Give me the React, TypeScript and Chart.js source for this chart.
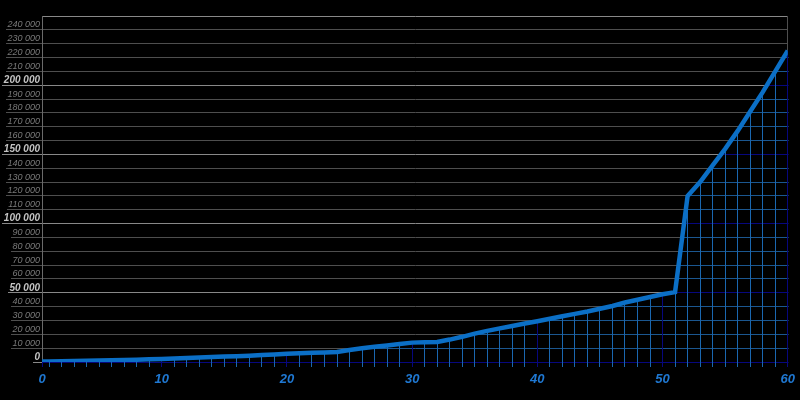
import React, { useEffect, useRef } from 'react';
import { Chart, registerables } from 'chart.js';

Chart.register(...registerables);

// ---- data ----
const xValues = [
  0, 1, 2, 3, 4, 5, 6, 7, 8, 9, 10, 11, 12, 13, 14, 15, 16, 17, 18, 19, 20,
  21, 22, 23, 24, 25, 26, 27, 28, 29, 30, 31, 32, 33, 34, 35, 36, 37, 38, 39, 40,
  41, 42, 43, 44, 45, 46, 47, 48, 49, 50, 51, 52, 53, 54, 55, 56, 57, 58, 59, 60,
];
const yValues = [
  200, 400, 600, 700, 900, 1100, 1300, 1500, 1700, 1900, 2100,
  2500, 2900, 3300, 3600, 3900, 4200, 4600, 5000, 5500, 6000,
  6300, 6600, 6900, 7300, 8600, 10000, 11000, 12000, 13000, 14000,
  14200, 14500, 16200, 18200, 20500, 22500, 24300, 26000, 27800, 29500,
  31300, 33000, 34800, 36500, 38500, 40500, 43000, 45000, 47000, 49000,
  50500, 120000, 130000, 142000, 154000, 167000, 181000, 195000, 210000, 225000,
];
const xLabelValues = [0, 10, 20, 30, 40, 50, 60];
const yMin = 0;
const yMax = 250000;
const yStep = 10000;
const yMajorStep = 50000;
const xVisibleMin = 0.44;
const xMax = 60;

// ---- style ----
const NAVY = '#07077e';
const LINE_BLUE = '#0b6fc6';
const FILL_V = '#1a67b0';
const FILL_H = '#1b5790';
const GRID_MINOR = '#4e4e4e';
const GRID_MAJOR = '#888888';
const LABEL_MINOR = '#7a7a7a';
const LABEL_MAJOR = '#c4c4c4';
const XLABEL = '#1f78d2';
const FAMILY = '"Liberation Sans", Arial, sans-serif';

const isMajorY = (v: number) => v % yMajorStep === 0;
const fmtY = (v: number) => (v === 0 ? '0' : `${Math.round(v / 1000)} 000`);
const yFont = (v: number) =>
  isMajorY(v)
    ? { family: FAMILY, size: 10, style: 'italic' as const, weight: 'bold' as const }
    : { family: FAMILY, size: 9, style: 'italic' as const, weight: 'normal' as const };

const align = (p: number) => Math.round(p - 0.5) + 0.5;

const underCurvePlugin = {
  id: 'underCurve',
  beforeDatasetsDraw(chart: any) {
    const { ctx, chartArea: ca, scales } = chart;
    const xs = scales.x;
    const ys = scales.y;
    const pts = chart.getDatasetMeta(0).data;
    if (!pts || !pts.length) return;
    const base = ys.getPixelForValue(0);

    ctx.save();
    // right frame line (gray, above curve)
    ctx.strokeStyle = GRID_MINOR;
    ctx.lineWidth = 1;
    ctx.beginPath();
    ctx.moveTo(align(ca.right), ca.top);
    ctx.lineTo(align(ca.right), base);
    ctx.stroke();

    // clip to the area under the curve
    ctx.beginPath();
    ctx.rect(ca.left, ca.top, ca.right - ca.left + 1, base - ca.top + 1);
    ctx.clip();
    ctx.beginPath();
    ctx.moveTo(pts[0].x, base + 1);
    for (const p of pts) ctx.lineTo(p.x, p.y);
    const last = pts[pts.length - 1];
    ctx.lineTo(last.x + 2, last.y);
    ctx.lineTo(last.x + 2, base + 1);
    ctx.closePath();
    ctx.clip();

    ctx.fillStyle = '#000';
    ctx.fillRect(ca.left, ca.top, ca.right - ca.left + 2, base - ca.top + 2);

    // horizontal lines
    for (let v = yMin; v <= yMax; v += yStep) {
      const py = align(ys.getPixelForValue(v));
      ctx.strokeStyle = isMajorY(v) ? NAVY : FILL_H;
      ctx.beginPath();
      ctx.moveTo(ca.left, py);
      ctx.lineTo(ca.right + 1, py);
      ctx.stroke();
    }
    // vertical lines
    for (const v of xValues) {
      if (v < xVisibleMin) continue;
      const px = align(xs.getPixelForValue(v));
      ctx.strokeStyle = v % 10 === 0 ? NAVY : FILL_V;
      ctx.beginPath();
      ctx.moveTo(px, base + 1);
      ctx.lineTo(px, ca.top);
      ctx.stroke();
    }
    ctx.restore();
  },
  afterDraw(chart: any) {
    // underline of y tick labels
    const { ctx, chartArea: ca, scales } = chart;
    const ys = scales.y;
    ctx.save();
    ctx.lineWidth = 1;
    for (const t of ys.ticks) {
      const v = t.value;
      if (v >= yMax) continue;
      const f = yFont(v);
      ctx.font = `${f.style} ${f.weight} ${f.size}px ${FAMILY}`;
      const w = ctx.measureText(fmtY(v)).width;
      const right = ca.left - 2;
      const py = align(ys.getPixelForValue(v));
      ctx.strokeStyle = isMajorY(v) ? GRID_MAJOR : GRID_MINOR;
      ctx.beginPath();
      ctx.moveTo(Math.floor(right - w - 1), py);
      ctx.lineTo(ca.left, py);
      ctx.stroke();
    }
    ctx.restore();
  },
};

export default function App() {
  const ref = useRef<HTMLCanvasElement | null>(null);

  useEffect(() => {
    if (!ref.current) return;
    const chart = new Chart(ref.current, {
      type: 'line',
      data: {
        datasets: [
          {
            data: xValues.map((x, i) => ({ x, y: yValues[i] })),
            borderColor: LINE_BLUE,
            borderWidth: 4.5,
            pointRadius: 0,
            tension: 0,
            fill: false,
          },
        ],
      },
      options: {
        responsive: false,
        animation: false,
        devicePixelRatio: 1,
        layout: { padding: { top: 16, right: 12, left: 0, bottom: 0 } },
        plugins: { legend: { display: false }, tooltip: { enabled: false } },
        scales: {
          x: {
            type: 'linear',
            min: xVisibleMin,
            max: xMax,
            afterFit: (s: any) => {
              s.height = 38;
            },
            afterBuildTicks: (s: any) => {
              s.ticks = [
                { value: xVisibleMin },
                ...xValues.filter((v) => v >= 1).map((v) => ({ value: v })),
              ];
            },
            border: { display: true, color: NAVY, width: 1 },
            grid: {
              display: true,
              drawOnChartArea: false,
              drawTicks: true,
              tickLength: 5,
              tickColor: (c: any) => {
                const v = c.tick ? c.tick.value : 0;
                return v < 1 || v % 10 === 0 ? NAVY : FILL_V;
              },
            },
            ticks: {
              autoSkip: false,
              maxRotation: 0,
              minRotation: 0,
              padding: 5,
              color: XLABEL,
              font: { family: FAMILY, size: 13, style: 'italic', weight: 'bold' },
              callback: (value: any) => {
                const v = Number(value);
                if (v < 1) return String(xLabelValues[0]);
                return xLabelValues.includes(v) ? String(v) : '';
              },
            },
          },
          y: {
            type: 'linear',
            min: yMin,
            max: yMax,
            afterFit: (s: any) => {
              s.width = 42;
            },
            border: { display: true, color: '#6a6a6a', width: 1 },
            grid: {
              drawTicks: false,
              color: (c: any) => (c.tick && isMajorY(c.tick.value) ? GRID_MAJOR : GRID_MINOR),
            },
            ticks: {
              autoSkip: false,
              stepSize: yStep,
              padding: 2,
              labelOffset: -5,
              color: (c: any) => (c.tick && isMajorY(c.tick.value) ? LABEL_MAJOR : LABEL_MINOR),
              font: (c: any) => yFont(c.tick ? c.tick.value : 1),
              callback: (value: any) => {
                const v = Number(value);
                if (v >= yMax) return '';
                return fmtY(v);
              },
            },
          },
        },
      },
      plugins: [underCurvePlugin],
    });
    return () => chart.destroy();
  }, []);

  return (
    <div
      style={{
        position: 'fixed',
        left: 0,
        top: 0,
        width: 800,
        height: 400,
        background: '#000',
      }}
    >
      <canvas ref={ref} width={800} height={400} style={{ display: 'block' }} />
    </div>
  );
}
